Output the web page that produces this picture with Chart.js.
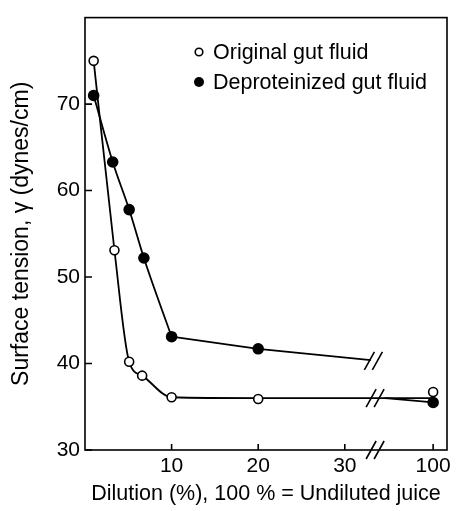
<!DOCTYPE html>
<html>
<head>
<meta charset="utf-8">
<script src="https://cdn.jsdelivr.net/npm/chart.js"></script>
<style>
  body { margin: 0; background: #fff; }
  #wrap { width: 457px; height: 511px; }
</style>
</head>
<body>
<div id="wrap"><canvas id="myChart"></canvas></div>
<script>
// Measured points (dilution %, surface tension dynes/cm); 100 = undiluted juice
let origX = [1, 3.4, 5.1, 6.6, 10, 20, 100];
let origY = [75, 53.1, 40.2, 38.6, 36.1, 35.9, 36.7];
let deprotX = [1, 3.2, 5.1, 6.8, 10, 20, 100];
let deprotY = [71, 63.3, 57.8, 52.2, 43.1, 41.7, 35.5];

// hand-drawn curves through the points
let origCurveX = [1, 3.4, 5.1, 6.6, 10, 20, 100];
let origCurveY = [75, 53.1, 40.2, 38.6, 36.1, 36.0, 36.0];
let deprotCurveX = [1, 3.2, 5.1, 6.8, 10];
let deprotCurveY = [71, 63.3, 57.8, 52.2, 43.1];
let deprotFlatX = [10, 20, 33];
let deprotFlatY = [43.1, 41.7, 40.4];
let deprotTailX = [34.6, 100];
let deprotTailY = [36.0, 35.5];

let xTicks = [10, 20, 30, 100];
let yTicks = [30, 40, 50, 60, 70];

// the axis is broken after 30; 100 sits just past the break
let breakAt = 33.5;
let hundredPos = 40.2;
function xPos(v) { return v >= 100 ? hundredPos : v; }
function pts(xs, ys) { return xs.map((v, i) => ({ x: xPos(v), y: ys[i] })); }

const FONT = "'Liberation Sans', Arial, sans-serif";

const decor = {
  id: 'decor',
  afterDatasetsDraw(chart) {
    const { ctx, chartArea: a, scales: { x, y } } = chart;
    ctx.save();
    ctx.strokeStyle = '#000';
    ctx.lineWidth = 1.6;
    ctx.strokeRect(a.left, a.top, a.right - a.left, a.bottom - a.top);

    // inward tick marks
    ctx.beginPath();
    xTicks.forEach(v => {
      let px = x.getPixelForValue(xPos(v));
      ctx.moveTo(px, a.bottom);
      ctx.lineTo(px, a.bottom - 6);
    });
    yTicks.forEach(v => {
      let py = y.getPixelForValue(v);
      ctx.moveTo(a.left, py);
      ctx.lineTo(a.left + 7, py);
    });
    ctx.stroke();

    // break marks  //
    function slash(vx, vy) {
      let cx = x.getPixelForValue(vx), cy = y.getPixelForValue(vy);
      ctx.beginPath();
      [-4, 4].forEach(dx => {
        ctx.moveTo(cx + dx - 5, cy + 9);
        ctx.lineTo(cx + dx + 5, cy - 9);
      });
      ctx.stroke();
    }
    slash(breakAt, 30);
    slash(breakAt - 0.2, 40.3);
    slash(breakAt, 36.0);

    // legend
    ctx.font = '21.5px ' + FONT;
    ctx.textBaseline = 'middle';
    ctx.beginPath();
    ctx.arc(199, 52, 3.8, 0, Math.PI * 2);
    ctx.fillStyle = '#fff';
    ctx.fill();
    ctx.stroke();
    ctx.beginPath();
    ctx.arc(199, 82, 5, 0, Math.PI * 2);
    ctx.fillStyle = '#000';
    ctx.fill();
    ctx.fillText('Original gut fluid', 213, 53);
    ctx.fillText('Deproteinized gut fluid', 213, 83);
    ctx.restore();
  }
};

const lineStyle = {
  type: 'line',
  borderColor: '#000',
  borderWidth: 1.8,
  pointRadius: 0,
  fill: false,
  cubicInterpolationMode: 'monotone'
};

new Chart("myChart", {
  type: "line",
  data: {
    datasets: [
      {
        data: pts(origX, origY), showLine: false,
        pointRadius: 4.5, pointBackgroundColor: '#fff',
        pointBorderColor: '#000', pointBorderWidth: 1.6
      },
      {
        data: pts(deprotX, deprotY), showLine: false,
        pointRadius: 5, pointBackgroundColor: '#000',
        pointBorderColor: '#000', pointBorderWidth: 1.6
      },
      Object.assign({ data: pts(origCurveX, origCurveY) }, lineStyle),
      Object.assign({ data: pts(deprotCurveX, deprotCurveY) }, lineStyle),
      Object.assign({ data: pts(deprotFlatX, deprotFlatY) }, lineStyle, { cubicInterpolationMode: 'default', tension: 0 }),
      Object.assign({ data: pts(deprotTailX, deprotTailY) }, lineStyle)
    ]
  },
  options: {
    responsive: true,
    maintainAspectRatio: false,
    animation: false,
    layout: { padding: { top: 12, right: 10, left: 0, bottom: 0 } },
    plugins: { legend: { display: false }, tooltip: { enabled: false } },
    scales: {
      x: {
        type: 'linear', min: 0, max: 41.8,
        afterBuildTicks: s => { s.ticks = xTicks.map(v => ({ value: xPos(v) })); },
        afterFit: s => { s.height = 61; },
        grid: { display: false, drawTicks: false },
        border: { display: false },
        ticks: {
          color: '#000', font: { family: FONT, size: 21 }, padding: 4,
          maxRotation: 0, autoSkip: false,
          callback: (v, i) => String(xTicks[i])
        },
        title: {
          display: true, text: 'Dilution (%), 100 % = Undiluted juice',
          color: '#000', font: { family: FONT, size: 21.5 },
          padding: { top: 0, bottom: 4 }
        }
      },
      y: {
        type: 'linear', min: 30, max: 80,
        afterBuildTicks: s => { s.ticks = yTicks.map(v => ({ value: v })); },
        afterFit: s => { s.width = 85; },
        grid: { display: false, drawTicks: false },
        border: { display: false },
        ticks: { color: '#000', font: { family: FONT, size: 21 }, padding: 5 },
        title: {
          display: true, text: 'Surface tension, γ (dynes/cm)',
          color: '#000', font: { family: FONT, size: 23 },
          padding: { top: 8, bottom: 0 }
        }
      }
    }
  },
  plugins: [decor]
});
</script>
</body>
</html>
